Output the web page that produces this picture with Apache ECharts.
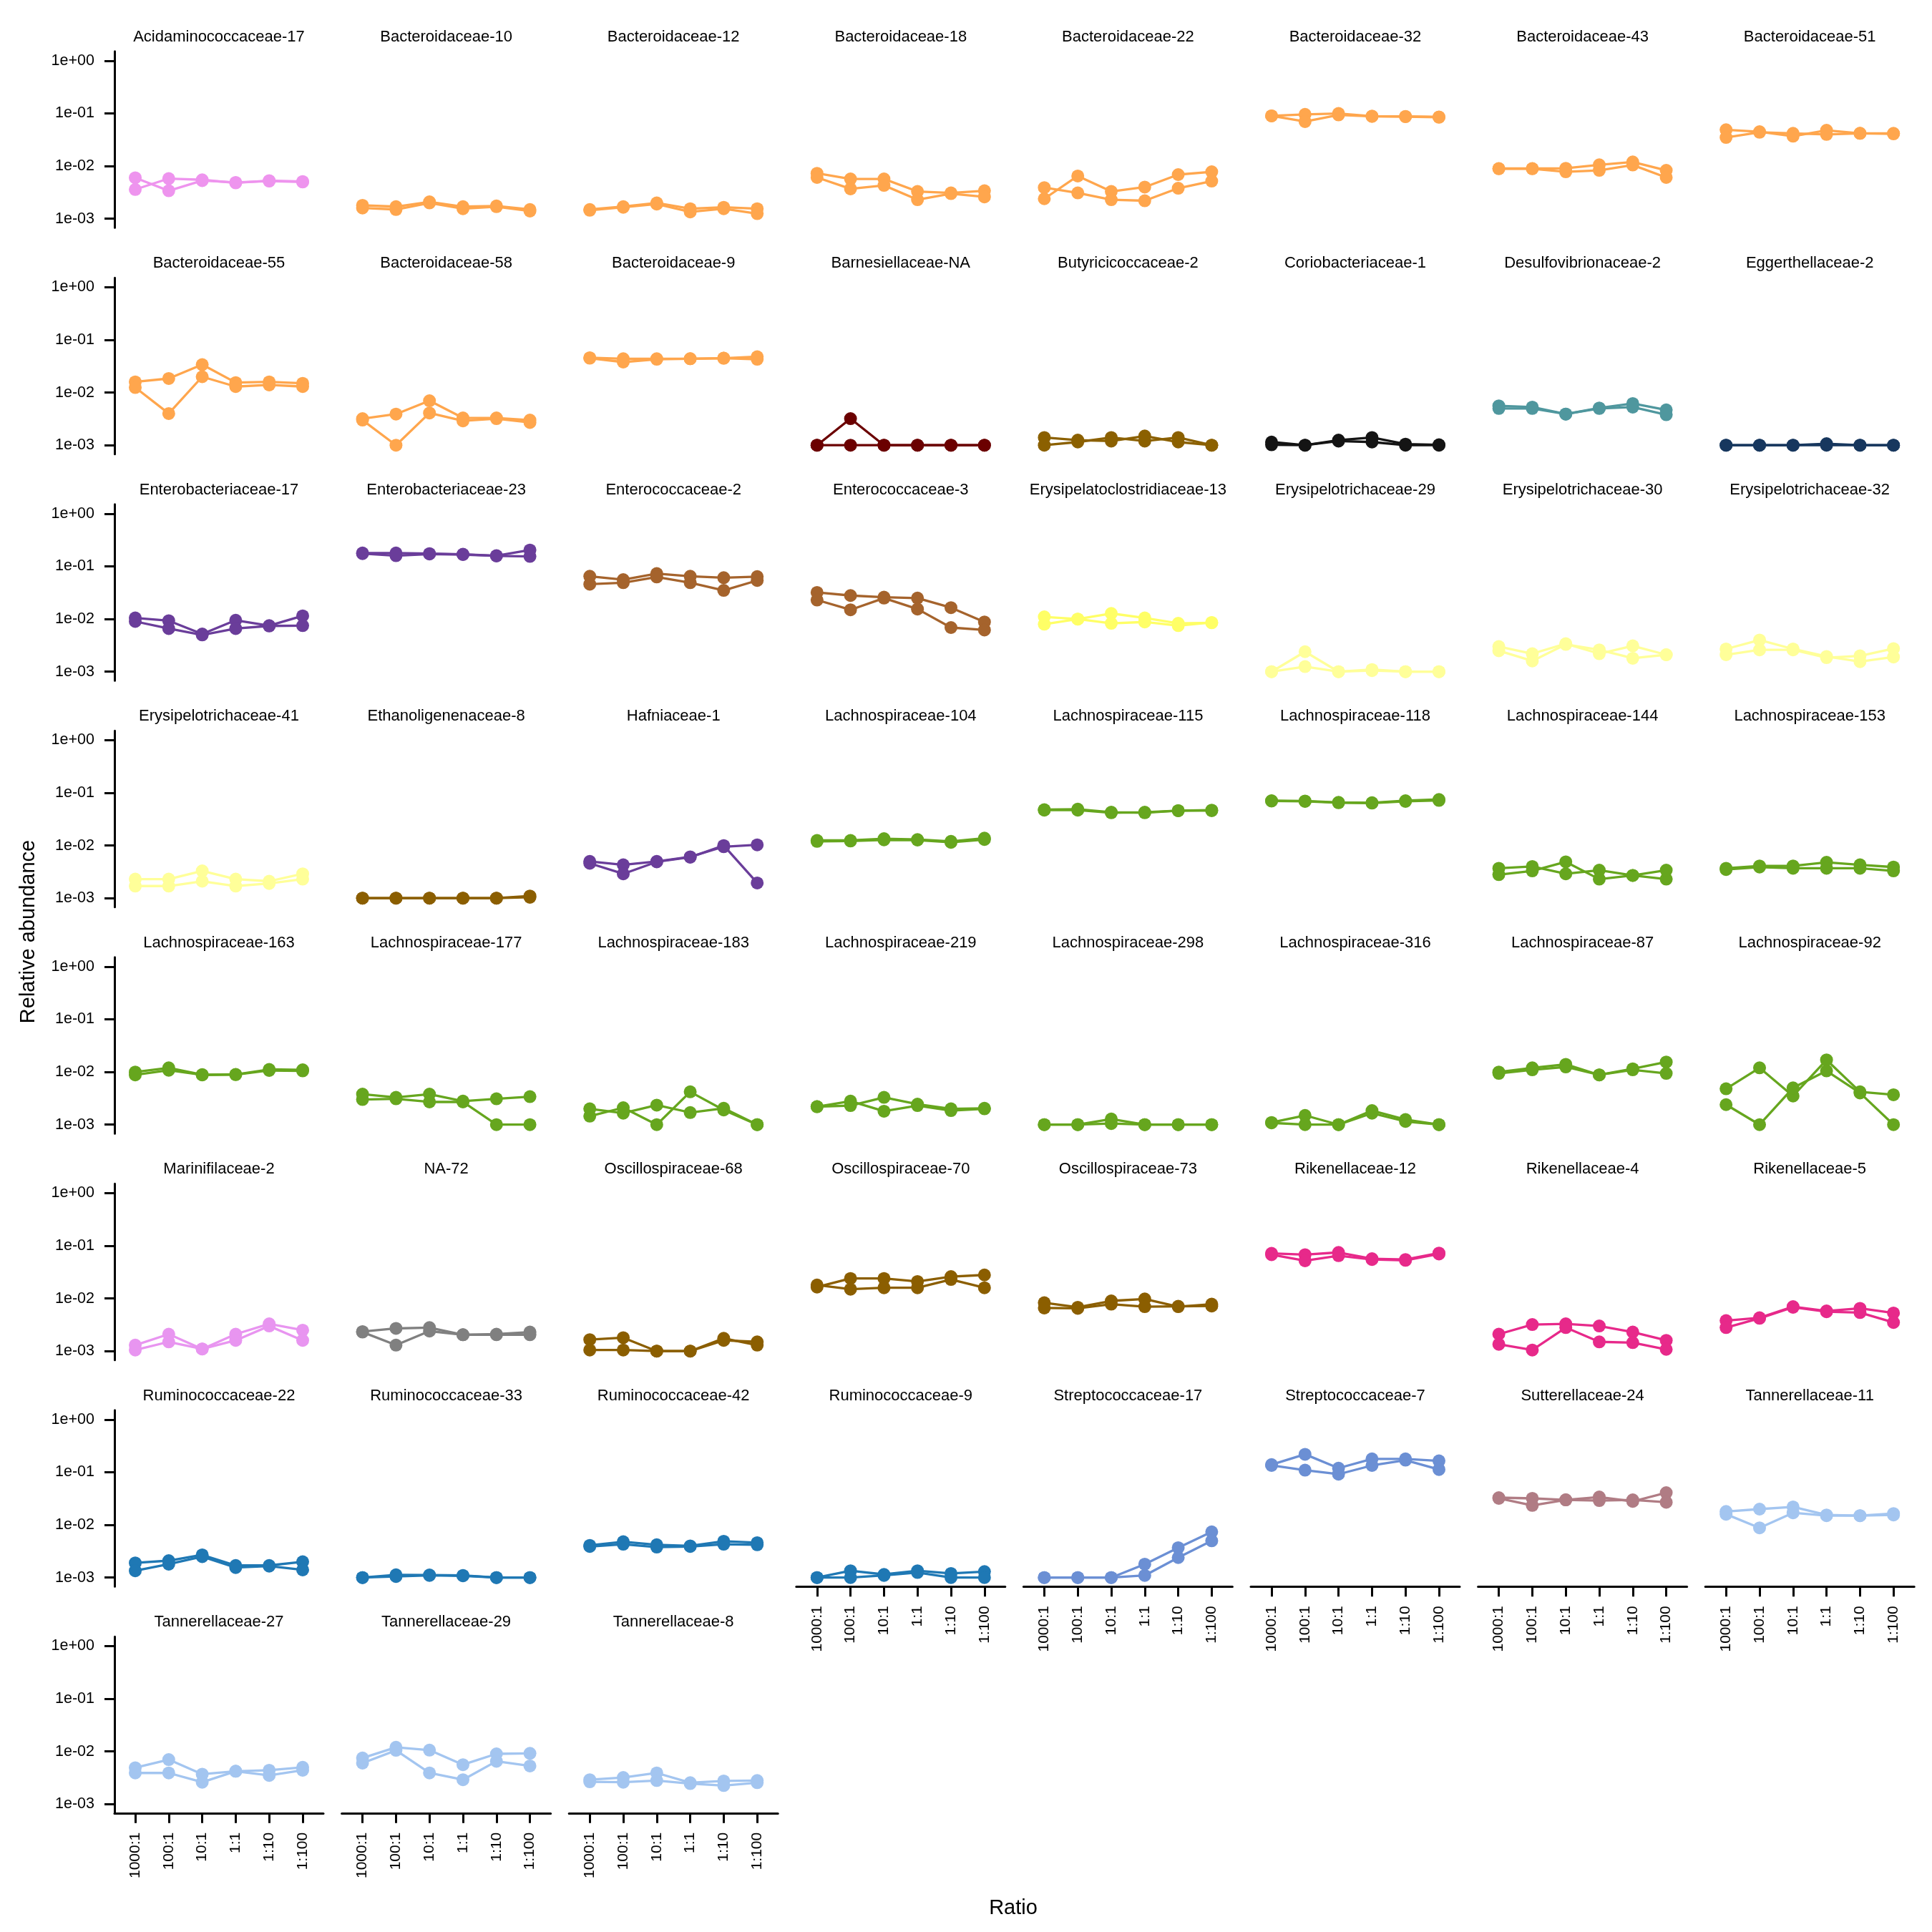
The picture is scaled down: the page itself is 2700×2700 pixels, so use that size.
<!DOCTYPE html>
<html><head><meta charset="utf-8">
<script src="https://cdn.jsdelivr.net/npm/echarts@6/dist/echarts.min.js"></script>
<style>html,body{margin:0;padding:0;background:#fff}#c{width:2700px;height:2700px}</style>
</head><body><div id="c"></div>
<script>
const ratios = ['1000:1','100:1','10:1','1:1','1:10','1:100'];
const yTickValues = [0.001, 0.01, 0.1, 1];
const panelNames = [
 'Acidaminococcaceae-17','Bacteroidaceae-10','Bacteroidaceae-12','Bacteroidaceae-18','Bacteroidaceae-22','Bacteroidaceae-32','Bacteroidaceae-43','Bacteroidaceae-51',
 'Bacteroidaceae-55','Bacteroidaceae-58','Bacteroidaceae-9','Barnesiellaceae-NA','Butyricicoccaceae-2','Coriobacteriaceae-1','Desulfovibrionaceae-2','Eggerthellaceae-2',
 'Enterobacteriaceae-17','Enterobacteriaceae-23','Enterococcaceae-2','Enterococcaceae-3','Erysipelatoclostridiaceae-13','Erysipelotrichaceae-29','Erysipelotrichaceae-30','Erysipelotrichaceae-32',
 'Erysipelotrichaceae-41','Ethanoligenenaceae-8','Hafniaceae-1','Lachnospiraceae-104','Lachnospiraceae-115','Lachnospiraceae-118','Lachnospiraceae-144','Lachnospiraceae-153',
 'Lachnospiraceae-163','Lachnospiraceae-177','Lachnospiraceae-183','Lachnospiraceae-219','Lachnospiraceae-298','Lachnospiraceae-316','Lachnospiraceae-87','Lachnospiraceae-92',
 'Marinifilaceae-2','NA-72','Oscillospiraceae-68','Oscillospiraceae-70','Oscillospiraceae-73','Rikenellaceae-12','Rikenellaceae-4','Rikenellaceae-5',
 'Ruminococcaceae-22','Ruminococcaceae-33','Ruminococcaceae-42','Ruminococcaceae-9','Streptococcaceae-17','Streptococcaceae-7','Sutterellaceae-24','Tannerellaceae-11',
 'Tannerellaceae-27','Tannerellaceae-29','Tannerellaceae-8'
];
// replicate 1 relative abundance per ratio
const rep1 = [
 [6.0e-3,3.4e-3,5.3e-3,4.9e-3,5.2e-3,5.0e-3],
 [1.8e-3,1.7e-3,2.1e-3,1.7e-3,1.75e-3,1.5e-3],
 [1.5e-3,1.7e-3,2.0e-3,1.55e-3,1.65e-3,1.55e-3],
 [7.3e-3,5.7e-3,5.7e-3,3.3e-3,3.1e-3,3.4e-3],
 [2.4e-3,6.5e-3,3.3e-3,4.0e-3,6.9e-3,7.8e-3],
 [9.0e-2,9.6e-2,1.0e-1,8.9e-2,8.8e-2,8.6e-2],
 [9.0e-3,9.0e-3,9.1e-3,1.06e-2,1.2e-2,8.3e-3],
 [4.9e-2,4.5e-2,3.7e-2,4.8e-2,4.2e-2,4.2e-2],
 [1.6e-2,1.85e-2,3.4e-2,1.55e-2,1.6e-2,1.5e-2],
 [3.2e-3,3.9e-3,7.0e-3,3.3e-3,3.3e-3,3.0e-3],
 [4.6e-2,4.4e-2,4.4e-2,4.4e-2,4.5e-2,4.8e-2],
 [1e-3,3.2e-3,1e-3,1e-3,1e-3,1e-3],
 [1.4e-3,1.25e-3,1.2e-3,1.5e-3,1.15e-3,1.0e-3],
 [1.15e-3,1.0e-3,1.25e-3,1.4e-3,1.05e-3,1.02e-3],
 [5.6e-3,5.3e-3,3.9e-3,5.1e-3,6.2e-3,4.7e-3],
 [1e-3,1e-3,1e-3,1.07e-3,1e-3,1e-3],
 [1.05e-2,9.3e-3,5.2e-3,9.5e-3,7.5e-3,1.15e-2],
 [0.18,0.18,0.175,0.17,0.16,0.205],
 [6.5e-2,5.6e-2,7.3e-2,6.5e-2,6.1e-2,6.4e-2],
 [3.2e-2,2.8e-2,2.6e-2,2.5e-2,1.65e-2,8.8e-3],
 [1.1e-2,1.0e-2,1.28e-2,1.05e-2,8.3e-3,8.5e-3],
 [1e-3,2.4e-3,1e-3,1.1e-3,1e-3,1e-3],
 [3.0e-3,2.2e-3,3.4e-3,2.2e-3,3.1e-3,2.1e-3],
 [2.7e-3,4.0e-3,2.7e-3,1.95e-3,1.55e-3,1.9e-3],
 [2.3e-3,2.3e-3,3.3e-3,2.3e-3,2.1e-3,2.9e-3],
 [1e-3,1e-3,1e-3,1e-3,1e-3,1.1e-3],
 [5.0e-3,4.3e-3,5.0e-3,6.1e-3,9.5e-3,1.03e-2],
 [1.25e-2,1.25e-2,1.35e-2,1.3e-2,1.2e-2,1.38e-2],
 [4.8e-2,4.9e-2,4.3e-2,4.2e-2,4.6e-2,4.7e-2],
 [7.1e-2,7.0e-2,6.6e-2,6.5e-2,7.1e-2,7.5e-2],
 [3.7e-3,4.0e-3,2.9e-3,3.4e-3,2.7e-3,2.3e-3],
 [3.7e-3,4.1e-3,4.1e-3,4.8e-3,4.3e-3,3.9e-3],
 [1.0e-2,1.2e-2,8.9e-3,9.0e-3,1.12e-2,1.1e-2],
 [3.8e-3,3.3e-3,3.8e-3,2.8e-3,3.1e-3,3.4e-3],
 [1.45e-3,2.1e-3,1.0e-3,4.2e-3,1.9e-3,1.0e-3],
 [2.2e-3,2.8e-3,1.8e-3,2.3e-3,1.85e-3,2.0e-3],
 [1e-3,1e-3,1.28e-3,1e-3,1e-3,1e-3],
 [1.1e-3,1.5e-3,1.0e-3,1.85e-3,1.25e-3,1.0e-3],
 [1.0e-2,1.2e-2,1.4e-2,8.8e-3,1.15e-2,1.55e-2],
 [4.8e-3,1.2e-2,3.5e-3,1.7e-2,4.2e-3,3.7e-3],
 [1.3e-3,2.1e-3,1.1e-3,2.1e-3,3.3e-3,2.5e-3],
 [2.35e-3,2.7e-3,2.8e-3,2.05e-3,2.1e-3,2.3e-3],
 [1.65e-3,1.8e-3,1.0e-3,1.0e-3,1.75e-3,1.3e-3],
 [1.65e-2,2.4e-2,2.4e-2,2.1e-2,2.6e-2,2.8e-2],
 [8.3e-3,6.8e-3,9.0e-3,9.8e-3,7.0e-3,7.8e-3],
 [7.2e-2,6.8e-2,7.5e-2,5.7e-2,5.5e-2,7.3e-2],
 [2.1e-3,3.2e-3,3.3e-3,3.0e-3,2.3e-3,1.6e-3],
 [3.8e-3,4.3e-3,7.0e-3,5.8e-3,6.5e-3,5.3e-3],
 [1.9e-3,2.1e-3,2.7e-3,1.7e-3,1.7e-3,2.0e-3],
 [1.0e-3,1.13e-3,1.12e-3,1.1e-3,1.0e-3,1.0e-3],
 [4.1e-3,4.8e-3,4.2e-3,4.0e-3,4.9e-3,4.6e-3],
 [1.0e-3,1.35e-3,1.15e-3,1.35e-3,1.2e-3,1.3e-3],
 [1e-3,1e-3,1e-3,1.8e-3,3.7e-3,7.4e-3],
 [0.14,0.22,0.12,0.18,0.18,0.165],
 [3.3e-2,3.2e-2,3.0e-2,3.4e-2,2.8e-2,4.1e-2],
 [1.8e-2,2.0e-2,2.2e-2,1.55e-2,1.5e-2,1.65e-2],
 [4.9e-3,7.0e-3,3.7e-3,4.2e-3,4.4e-3,5.0e-3],
 [7.5e-3,1.2e-2,1.06e-2,5.6e-3,9.0e-3,9.2e-3],
 [2.9e-3,3.2e-3,3.9e-3,2.55e-3,2.75e-3,2.8e-3]
];
// replicate 2 relative abundance per ratio
const rep2 = [
 [3.6e-3,5.8e-3,5.5e-3,4.8e-3,5.3e-3,5.1e-3],
 [1.6e-3,1.5e-3,2.0e-3,1.55e-3,1.7e-3,1.4e-3],
 [1.45e-3,1.65e-3,1.9e-3,1.35e-3,1.55e-3,1.25e-3],
 [6.1e-3,3.7e-3,4.3e-3,2.3e-3,3.0e-3,2.6e-3],
 [3.9e-3,3.1e-3,2.3e-3,2.2e-3,3.8e-3,5.2e-3],
 [9.0e-2,7.0e-2,9.4e-2,8.8e-2,8.7e-2,8.5e-2],
 [8.9e-3,8.9e-3,7.8e-3,8.3e-3,1.05e-2,6.1e-3],
 [3.5e-2,4.4e-2,4.2e-2,4.0e-2,4.2e-2,4.1e-2],
 [1.25e-2,4.0e-3,2.0e-2,1.3e-2,1.4e-2,1.3e-2],
 [3.0e-3,1.0e-3,4.1e-3,2.9e-3,3.2e-3,2.7e-3],
 [4.5e-2,3.8e-2,4.3e-2,4.4e-2,4.5e-2,4.3e-2],
 [1e-3,1e-3,1e-3,1e-3,1e-3,1e-3],
 [1.0e-3,1.15e-3,1.4e-3,1.2e-3,1.4e-3,1.0e-3],
 [1.02e-3,1.0e-3,1.2e-3,1.15e-3,1.0e-3,1.0e-3],
 [5.0e-3,5.0e-3,3.9e-3,5.0e-3,5.3e-3,3.8e-3],
 [1e-3,1e-3,1e-3,1e-3,1e-3,1e-3],
 [9.0e-3,6.6e-3,5.0e-3,6.6e-3,7.4e-3,7.5e-3],
 [0.175,0.16,0.172,0.168,0.158,0.155],
 [4.6e-2,4.9e-2,6.3e-2,4.9e-2,3.5e-2,5.4e-2],
 [2.3e-2,1.5e-2,2.5e-2,1.55e-2,6.9e-3,6.2e-3],
 [8.0e-3,1.0e-2,8.3e-3,8.8e-3,7.5e-3,8.6e-3],
 [1e-3,1.25e-3,1e-3,1.05e-3,1e-3,1e-3],
 [2.5e-3,1.6e-3,3.3e-3,2.6e-3,1.8e-3,2.1e-3],
 [2.1e-3,2.6e-3,2.6e-3,1.85e-3,2.0e-3,2.75e-3],
 [1.7e-3,1.7e-3,2.1e-3,1.7e-3,1.9e-3,2.3e-3],
 [1e-3,1e-3,1e-3,1e-3,1e-3,1.04e-3],
 [4.6e-3,2.9e-3,4.9e-3,6.0e-3,1.0e-2,1.95e-3],
 [1.2e-2,1.22e-2,1.28e-2,1.27e-2,1.15e-2,1.3e-2],
 [4.7e-2,4.7e-2,4.2e-2,4.3e-2,4.6e-2,4.6e-2],
 [7.0e-2,6.9e-2,6.5e-2,6.4e-2,6.9e-2,7.2e-2],
 [2.8e-3,3.3e-3,4.9e-3,2.3e-3,2.7e-3,3.4e-3],
 [3.5e-3,3.9e-3,3.7e-3,3.7e-3,3.7e-3,3.3e-3],
 [8.8e-3,1.08e-2,8.8e-3,8.9e-3,1.07e-2,1.05e-2],
 [3.0e-3,3.1e-3,2.7e-3,2.7e-3,1e-3,1e-3],
 [2.0e-3,1.65e-3,2.35e-3,1.7e-3,2.05e-3,1.0e-3],
 [2.2e-3,2.3e-3,3.3e-3,2.45e-3,2.0e-3,2.05e-3],
 [1e-3,1e-3,1.05e-3,1e-3,1e-3,1e-3],
 [1.08e-3,1.0e-3,1.0e-3,1.65e-3,1.15e-3,1.0e-3],
 [9.4e-3,1.1e-2,1.25e-2,8.8e-3,1.1e-2,9.4e-3],
 [2.4e-3,1.0e-3,5.0e-3,1.05e-2,4.0e-3,1.0e-3],
 [1.05e-3,1.5e-3,1.1e-3,1.6e-3,3.0e-3,1.6e-3],
 [2.3e-3,1.3e-3,2.4e-3,2.05e-3,2.05e-3,2.05e-3],
 [1.05e-3,1.05e-3,1.0e-3,1.0e-3,1.6e-3,1.5e-3],
 [1.8e-2,1.5e-2,1.6e-2,1.6e-2,2.3e-2,1.6e-2],
 [6.6e-3,6.5e-3,7.8e-3,7.0e-3,7.1e-3,7.2e-3],
 [6.8e-2,5.2e-2,6.5e-2,5.5e-2,5.3e-2,7.0e-2],
 [1.35e-3,1.05e-3,2.8e-3,1.5e-3,1.45e-3,1.08e-3],
 [2.8e-3,4.2e-3,6.8e-3,5.6e-3,5.4e-3,3.5e-3],
 [1.35e-3,1.8e-3,2.5e-3,1.55e-3,1.65e-3,1.4e-3],
 [1.0e-3,1.05e-3,1.1e-3,1.08e-3,1.0e-3,1.0e-3],
 [3.9e-3,4.3e-3,3.8e-3,3.9e-3,4.3e-3,4.2e-3],
 [1.0e-3,1.0e-3,1.1e-3,1.25e-3,1.0e-3,1.0e-3],
 [1e-3,1e-3,1e-3,1.1e-3,2.4e-3,5.0e-3],
 [0.135,0.11,0.092,0.135,0.17,0.113],
 [3.2e-2,2.35e-2,3.0e-2,2.9e-2,3.0e-2,2.7e-2],
 [1.6e-2,8.8e-3,1.7e-2,1.5e-2,1.5e-2,1.55e-2],
 [3.9e-3,3.9e-3,2.6e-3,4.2e-3,3.5e-3,4.4e-3],
 [6.0e-3,1.05e-2,3.9e-3,2.9e-3,6.5e-3,5.3e-3],
 [2.65e-3,2.6e-3,2.8e-3,2.45e-3,2.25e-3,2.55e-3]
];

// style: colour per family
const familyColors = {
 Acidaminococcaceae:'#EE94EE', Bacteroidaceae:'#FFA64D', Barnesiellaceae:'#6B0000', Butyricicoccaceae:'#8B6000',
 Coriobacteriaceae:'#141414', Desulfovibrionaceae:'#4F979E', Eggerthellaceae:'#17375E', Enterobacteriaceae:'#6A3D9A',
 Enterococcaceae:'#A5632C', Erysipelatoclostridiaceae:'#FFFF66', Erysipelotrichaceae:'#FFFF99', Ethanoligenenaceae:'#8B5E00',
 Hafniaceae:'#6A3D9A', Lachnospiraceae:'#66A61E', Marinifilaceae:'#E895F0', NA:'#808080', Oscillospiraceae:'#8B5E00',
 Rikenellaceae:'#E7298A', Ruminococcaceae:'#1F78B4', Streptococcaceae:'#6B8FD4', Sutterellaceae:'#B07C84', Tannerellaceae:'#A3C5F0'
};

const FONT = '"Liberation Sans", Arial, Helvetica, sans-serif';
const NCOL = 8;
const fmtExp = v => { const e = Math.round(Math.log10(v)); return '1e' + (e < 0 ? '-' : '+') + String(Math.abs(e)).padStart(2, '0'); };
const xIdx = ratios.map((_, k) => k);

const grids = [], xAxes = [], yAxes = [], series = [], graphics = [];
panelNames.forEach((name, i) => {
  const r = Math.floor(i / NCOL), c = i % NCOL;
  const left = 160 + 317.6 * c, top = 71.7 + 316.5 * r, w = 292, h = 246.6;
  const showX = i + NCOL >= panelNames.length;
  const showY = c === 0;
  const fam = name.slice(0, name.lastIndexOf('-'));
  const color = familyColors[fam];
  grids.push({left: left, top: top, width: w, height: h});
  xAxes.push({
    gridIndex: i, type: 'value', min: -0.62, max: 5.62,
    axisLine: {show: showX, onZero: false, lineStyle: {color: '#000', width: 3}},
    axisTick: {show: showX, length: 14, lineStyle: {color: '#000', width: 3}, customValues: xIdx},
    axisLabel: {show: showX, rotate: 90, margin: 27, fontSize: 21, color: '#000', fontFamily: FONT,
      customValues: xIdx, formatter: v => ratios[Math.round(v)]},
    splitLine: {show: false}
  });
  yAxes.push({
    gridIndex: i, type: 'log', logBase: 10, min: 6.745e-4, max: 1.516,
    axisLine: {show: showY, onZero: false, lineStyle: {color: '#000', width: 3}},
    axisTick: {show: showY, length: 14, lineStyle: {color: '#000', width: 3}, customValues: yTickValues},
    axisLabel: {show: showY, margin: 28, fontSize: 21.5, color: '#000', fontFamily: FONT,
      customValues: yTickValues, formatter: fmtExp},
    splitLine: {show: false}, minorTick: {show: false}
  });
  [rep1[i], rep2[i]].forEach(vals => {
    series.push({
      type: 'line', xAxisIndex: i, yAxisIndex: i,
      data: vals.map((v, k) => [k, v]),
      symbol: 'circle', symbolSize: 18, showSymbol: true,
      lineStyle: {width: 3.3, color: color}, itemStyle: {color: color},
      emphasis: {disabled: true}, silent: true, animation: false
    });
  });
  graphics.push({type: 'text', x: left + w / 2, y: top - 20, silent: true,
    style: {text: name, fill: '#000', fontSize: 22, fontFamily: FONT, align: 'center', verticalAlign: 'middle'}});
});
graphics.push({type: 'text', x: 40, y: 1302, rotation: Math.PI / 2, silent: true,
  style: {text: 'Relative abundance', fill: '#000', fontSize: 29, fontFamily: FONT, align: 'center', verticalAlign: 'middle'}});
graphics.push({type: 'text', x: 1416, y: 2667, silent: true,
  style: {text: 'Ratio', fill: '#000', fontSize: 29, fontFamily: FONT, align: 'center', verticalAlign: 'middle'}});

const chart = echarts.init(document.getElementById('c'), null, {renderer: 'canvas', width: 2700, height: 2700});
chart.setOption({
  backgroundColor: '#fff', animation: false,
  grid: grids, xAxis: xAxes, yAxis: yAxes, series: series, graphic: graphics
});
</script></body></html>
